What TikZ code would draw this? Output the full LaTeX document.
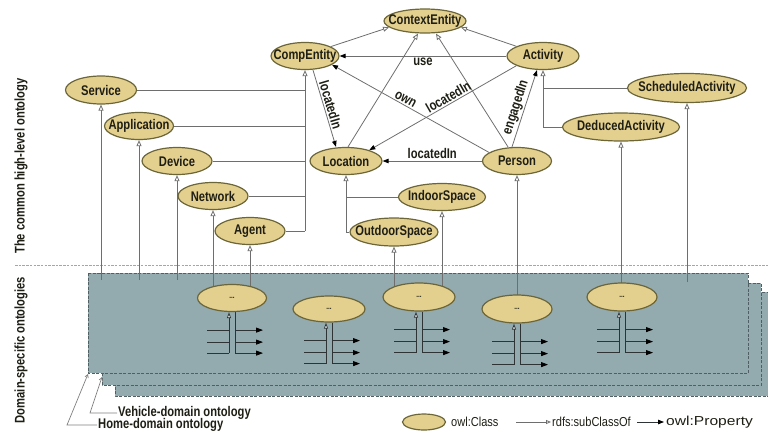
\documentclass[tikz,border=0pt]{standalone}
\usepackage{fontspec}
\setmainfont{Liberation Sans}
\newfontfamily\cnd[FakeStretch=0.8]{Liberation Sans}
\newfontfamily\lcnd[FakeStretch=0.85]{Liberation Sans}
\newfontfamily\wde[FakeStretch=1.2]{Liberation Sans}
\usetikzlibrary{shapes.geometric,arrows.meta}
\pgfdeclarelayer{panels}
\pgfdeclarelayer{lines}
\pgfsetlayers{panels,lines,main}
\definecolor{clsfill}{HTML}{E4D08E}
\definecolor{clsdraw}{HTML}{6B6538}
\definecolor{conn}{HTML}{6E6E6E}
\definecolor{connd}{HTML}{2E3436}
\definecolor{panelc}{HTML}{93AAAE}
\definecolor{paneld}{HTML}{4F5F63}
\definecolor{txt}{HTML}{1E1E14}
\newcommand\nfont{\cnd\bfseries\fontsize{14}{16}\selectfont}
\newcommand\lgfont{\lcnd\fontsize{13}{15}\selectfont}
\newcommand\dfont{\cnd\bfseries\fontsize{8}{9}\selectfont}
\newcommand\mkcls[5]{\node[cls, minimum width=#4pt, minimum height=#5pt, label=center:{#1}] (#1) at (#2,#3) {};}
\begin{document}
\begin{tikzpicture}[x=1pt,y=-1pt,
  cls/.style={ellipse, draw=clsdraw, fill=clsfill, line width=1.2pt, inner sep=0pt},
  every label/.style={font=\nfont, text=txt, inner sep=0pt},
  sub/.style={draw=conn, line width=0.8pt, -{Triangle[open, length=6pt, width=5pt, fill=white]}},
  subd/.style={draw=connd, line width=0.8pt, -{Triangle[open, length=6pt, width=4pt, fill=white]}},
  conline/.style={draw=conn, line width=0.8pt},
  dline/.style={draw=connd, line width=0.8pt},
  prop/.style={draw=conn, line width=0.8pt, -{Triangle[length=6pt, width=4.5pt, color=black]}},
  propd/.style={draw=connd, line width=0.8pt, -{Triangle[length=7pt, width=5pt, color=black]}},
  lab/.style={font=\nfont, text=txt, inner sep=1.5pt},
  panel/.style={fill=panelc, draw=paneld, dash pattern=on 3pt off 1.5pt, line width=0.7pt},
  sepline/.style={draw=gray!70, dash pattern=on 2.5pt off 1.2pt, line width=0.8pt},
  callout/.style={draw=gray, line width=0.7pt, -{Straight Barb[length=3pt, width=3.5pt]}},
  sidelab/.style={font=\nfont, text=txt, rotate=90, inner sep=0pt}
]
\useasboundingbox (0,0) rectangle (768,432);

% ---------- classes ----------
\mkcls{ContextEntity}{425}{21}{82}{24}
\mkcls{CompEntity}{305}{56}{68}{27}
\mkcls{Activity}{543}{56}{72}{27}
\mkcls{Service}{101}{90}{71}{28}
\mkcls{Application}{139}{126}{69}{27}
\mkcls{Device}{177}{161}{70}{27}
\mkcls{Location}{346}{161}{72}{27}
\mkcls{Person}{517}{161}{69}{27}
\mkcls{Network}{213}{196}{70}{27}
\mkcls{IndoorSpace}{442}{197}{87}{27}
\mkcls{Agent}{250}{231}{70}{27}
\mkcls{OutdoorSpace}{394}{232}{88}{28}
\mkcls{ScheduledActivity}{687}{88}{119}{29}
\mkcls{DeducedActivity}{621}{127}{117}{28}

% domain-specific classes
\node[cls, minimum width=69pt, minimum height=27pt, label={[font=\dfont]center:...}] (d1) at (232,298) {};
\node[cls, minimum width=72pt, minimum height=26pt, label={[font=\dfont]center:...}] (d2) at (329,309) {};
\node[cls, minimum width=72pt, minimum height=28pt, label={[font=\dfont]center:...}] (d3) at (419,297) {};
\node[cls, minimum width=70pt, minimum height=28pt, label={[font=\dfont]center:...}] (d4) at (517,309) {};
\node[cls, minimum width=70pt, minimum height=28pt, label={[font=\dfont]center:...}] (d5) at (622,297) {};

% side labels
\node[sidelab] (lblHigh) at (21,166) {The common high-level ontology};
\node[sidelab] (lblDom) at (21,350) {Domain-specific ontologies};

% bottom labels
\node[font=\nfont, text=txt, anchor=west, inner sep=0pt] (vehLbl) at (118,413) {Vehicle-domain ontology};
\node[font=\nfont, text=txt, anchor=west, inner sep=0pt] (homeLbl) at (98,425) {Home-domain ontology};

% legend
\node[cls, minimum width=43pt, minimum height=16pt] (legCls) at (424,422) {};
\node[font=\lgfont, text=txt, anchor=west, inner sep=0pt] (legClsT) at (451,422) {owl:Class};
\node[font=\lgfont, text=txt, anchor=west, inner sep=0pt] (legSubT) at (552,422) {rdfs:subClassOf};
\node[font=\wde\fontsize{13}{15}\selectfont, text=txt, anchor=west, inner sep=0pt] (legPropT) at (666,422) {owl:Property};
\coordinate (legSubS) at (516,422);
\coordinate (legPropS) at (637,422);

% ---------- panels ----------
\begin{pgfonlayer}{panels}
  \draw[panel] (115,292) rectangle (768,396);
  \draw[panel] (102,283) rectangle (761,385);
  \draw[panel] (88,273) rectangle (748,373);
\end{pgfonlayer}

% ---------- connectors ----------
\begin{pgfonlayer}{lines}
  \coordinate (sepL) at (15,265);
  \coordinate (sepR) at (768,265);
  \draw[sepline] (sepL) -- (sepR);

  % subclass of ContextEntity
  \draw[sub] (CompEntity.20) -- (ContextEntity.190);
  \draw[sub] (Activity.160) -- (ContextEntity.-10);
  \draw[sub] ([xshift=2pt]Location.north) -- ([xshift=-7pt]ContextEntity.south);
  \draw[sub] ([xshift=-9pt]Person.north) -- ([xshift=11pt]ContextEntity.south);

  % CompEntity tree
  \draw[sub] (CompEntity.south |- Agent.east) -- (CompEntity.south);
  \foreach \c in {Service,Application,Device,Network,Agent}
    \draw[conline] (\c.east) -- (\c.east -| CompEntity.south);

  % Location tree
  \draw[sub] (Location.south |- OutdoorSpace.west) -- (Location.south);
  \draw[conline] (IndoorSpace.west) -- (IndoorSpace.west -| Location.south);
  \draw[conline] (OutdoorSpace.west) -- (OutdoorSpace.west -| Location.south);

  % Activity tree
  \draw[sub] (Activity.south |- DeducedActivity.west) -- (Activity.south);
  \draw[conline] (ScheduledActivity.west) -- (ScheduledActivity.west -| Activity.south);
  \draw[conline] (DeducedActivity.west) -- (DeducedActivity.west -| Activity.south);

  % properties
  \draw[prop] (Activity.west) -- node[lab, below] {use} (CompEntity.east);
  \draw[prop] (Person.163) -- node[lab, sloped, above, pos=0.55] {own} (CompEntity.-18);
  \draw[prop] (Activity.200) -- node[lab, sloped, above, pos=0.44] {locatedIn} (Location.25);
  \draw[prop] (Person.west) -- node[lab, above] {locatedIn} (Location.east);
  \draw[prop] ([xshift=8pt]CompEntity.south) -- node[lab, sloped, above, pos=0.48] {locatedIn} ([xshift=-10pt]Location.north);
  \draw[prop] ([xshift=-5pt]Person.north) -- node[lab, sloped, above, pos=0.48] {engagedIn} ([xshift=-6pt]Activity.south);

  % links down into the domain ontologies
  \coordinate (pTop) at (0,280);
  \coordinate (pTopB) at (0,282);
  \foreach \c in {Service,Application,Device}
    \draw[sub] (\c.south |- pTop) -- (\c.south);
  \draw[sub] (ScheduledActivity.south |- pTopB) -- (ScheduledActivity.south);
  \draw[sub] (Network.south |- d1.center) -- (Network.south);
  \draw[sub] (Agent.south |- d1.center) -- (Agent.south);
  \draw[sub] (OutdoorSpace.south |- d3.center) -- (OutdoorSpace.south);
  \draw[sub] (IndoorSpace.south |- d3.center) -- (IndoorSpace.south);
  \draw[sub] (Person.south |- d4.center) -- (Person.south);
  \draw[sub] (DeducedActivity.south |- d5.center) -- (DeducedActivity.south);

  % sub-structures under domain classes
  \foreach \n in {d1,d2,d3,d4,d5} {
    \draw[subd] ([xshift=-3pt,yshift=-41pt]\n.south) -- ([xshift=-3pt]\n.south);
    \draw[dline] ([xshift=3pt]\n.south) -- ([xshift=3pt,yshift=-41pt]\n.south);
    \foreach \dy in {18,30,41} {
      \draw[dline] ([xshift=-25pt,yshift=-\dy pt]\n.south) -- ([xshift=-3pt,yshift=-\dy pt]\n.south);
      \draw[propd] ([xshift=3pt,yshift=-\dy pt]\n.south) -- ([xshift=31pt,yshift=-\dy pt]\n.south);
    }
  }

  % callouts to the panels
  \coordinate (vehBend) at (90,413);
  \coordinate (vehTip) at (102,377);
  \coordinate (homeBend) at (67,425);
  \coordinate (homeTip) at (88,374);
  \draw[callout] ([xshift=-1pt]vehLbl.west) -- (vehBend) -- (vehTip);
  \draw[callout] ([xshift=-1pt]homeLbl.west) -- (homeBend) -- (homeTip);

  % legend connectors
  \draw[draw=conn, line width=0.8pt, -{Triangle[open, length=5pt, width=4pt, fill=white]}] (legSubS) -- ([xshift=-1pt]legSubT.west);
  \draw[draw=connd, line width=0.8pt, -{Triangle[length=6pt, width=4.5pt, color=black]}] (legPropS) -- ([xshift=-2pt]legPropT.west);
\end{pgfonlayer}
\end{tikzpicture}
\end{document}
